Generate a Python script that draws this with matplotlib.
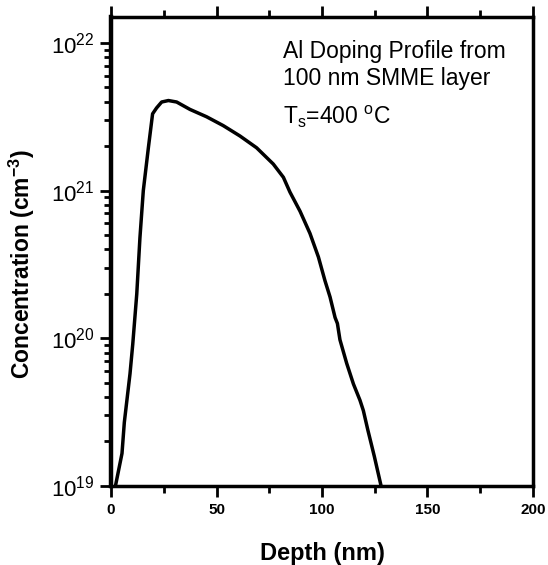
import numpy as np
import matplotlib
matplotlib.use('Agg')
import matplotlib.pyplot as plt
from matplotlib.ticker import MultipleLocator, LogLocator, NullFormatter

plt.rcParams['font.family'] = ['Liberation Sans', 'DejaVu Sans']
plt.rcParams['mathtext.fontset'] = 'custom'
plt.rcParams['mathtext.rm'] = 'Liberation Sans'
plt.rcParams['mathtext.bf'] = 'Liberation Sans:bold'

# Al doping profile
depth_nm = [2.1, 5.2, 6.3, 9.0, 10.3, 12.2, 13.7, 15.3, 17.7, 19.7, 21.6, 24.0, 27.2,
            31.1, 37.4, 45.3, 53.2, 61.1, 69.0, 76.9, 81.7, 84.8, 89.6, 94.3, 98.3,
            101.4, 103.8, 106.2, 107.3, 108.5, 111.7, 114.9, 118.0, 119.6, 121.7,
            124.8, 128.0]
log_conc = [19.0, 19.22, 19.43, 19.76, 19.96, 20.30, 20.68, 21.0, 21.29, 21.52, 21.56,
            21.60, 21.61, 21.60, 21.55, 21.50, 21.44, 21.37, 21.29, 21.18, 21.09, 20.99,
            20.86, 20.71, 20.55, 20.39, 20.28, 20.14, 20.10, 19.99, 19.83, 19.69, 19.58,
            19.51, 19.38, 19.20, 19.0]
conc = 10 ** np.array(log_conc)

x_ticks = [0, 50, 100, 150, 200]
y_ticks = [1e19, 1e20, 1e21, 1e22]
y_tick_labels = [r'$10^{19}$', r'$10^{20}$', r'$10^{21}$', r'$10^{22}$']

fig = plt.figure(figsize=(5.48, 5.65), dpi=100)
ax = fig.add_axes([0.2026, 0.140, 0.770, 0.830])

ax.plot(depth_nm, conc, color='black', linewidth=2.5, solid_joinstyle='round')

ax.set_yscale('log')
ax.set_xlim(0, 200)
ax.set_ylim(1e19, 1.5e22)

ax.set_xticks(x_ticks)
ax.set_xticklabels([str(t) for t in x_ticks], fontsize=11, fontweight='bold')
ax.xaxis.set_minor_locator(MultipleLocator(25))
ax.set_yticks(y_ticks)
ax.set_yticklabels(y_tick_labels, fontsize=16)
ax.yaxis.set_minor_locator(LogLocator(base=10, subs=np.arange(2, 10)))
ax.yaxis.set_minor_formatter(NullFormatter())

ax.tick_params(which='both', direction='out', top=True, right=False, width=2)
ax.tick_params(which='major', length=8, pad=4)
ax.tick_params(which='minor', length=5)

for side in ['top', 'bottom', 'right']:
    ax.spines[side].set_linewidth(2.5)
ax.spines['left'].set_linewidth(3.2)

ax.set_xlabel('Depth (nm)', fontsize=17, fontweight='bold', labelpad=18)
ax.set_ylabel(r'Concentration (cm$^{\mathbf{-3}}$)', fontsize=16.5, fontweight='bold')
ax.yaxis.set_label_coords(-0.175, 0.473)

ax.text(0.408, 0.951, 'Al Doping Profile from', transform=ax.transAxes,
        fontsize=16.5, va='top', ha='left')
ax.text(0.408, 0.894, '100 nm SMME layer', transform=ax.transAxes,
        fontsize=16.5, va='top', ha='left')
ax.text(0.408, 0.815, r'T$_\mathregular{s}$=400 $^\mathregular{o}$C', transform=ax.transAxes,
        fontsize=16.5, va='top', ha='left')

fig.savefig('out.png', dpi=100)
